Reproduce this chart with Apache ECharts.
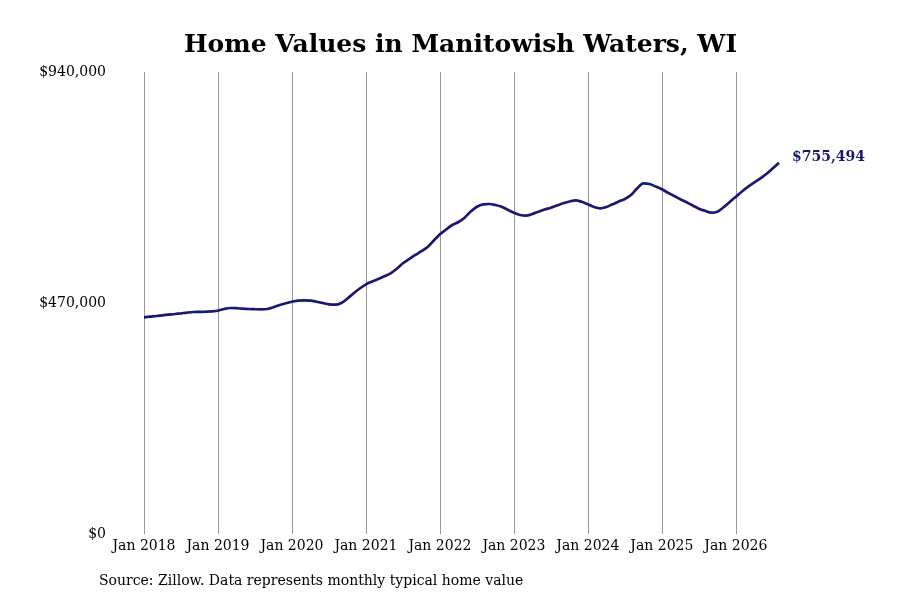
<!DOCTYPE html>
<html>
<head>
<meta charset="utf-8">
<script src="https://cdn.jsdelivr.net/npm/echarts@6/dist/echarts.min.js"></script>
<style>
  html, body { margin: 0; padding: 0; background: #fff; }
  #chart { width: 900px; height: 600px; }
</style>
</head>
<body>
<div id="chart"></div>
<script>
// monthly typical home value, Jan 2018 .. Aug 2026
const values = [
  440900, 442300, 443500, 445000, 446400, 447600, 449000, 450500, 451700, 451900, 452300, 452900,
  454300, 457800, 459800, 459400, 458400, 457800, 457400, 457200, 457800, 461200, 465900, 469600,
  472600, 474900, 475500, 474900, 472600, 470000, 467300, 466500, 470000, 479100, 489700, 499500,
  508000, 513700, 518800, 524300, 530400, 539600, 550800, 559100, 567700, 575400, 583900, 597200,
  609800, 619500, 628700, 634800, 643600, 656100, 665900, 670800, 671400, 669400, 665900, 659800,
  653700, 649000, 647600, 651100, 655800, 660200, 663900, 668400, 672800, 676500, 678900, 675900,
  670800, 665300, 662700, 665300, 670800, 676500, 681600, 689700, 703400, 713500, 712100, 707000,
  701300, 694400, 687700, 681200, 674900, 668400, 661900, 657600, 653700, 655800, 664700, 675500,
  686300, 696900, 706600, 715200, 723700, 732900, 744000, 755494
];
const monthNames = ['Jan', 'Feb', 'Mar', 'Apr', 'May', 'Jun', 'Jul', 'Aug', 'Sep', 'Oct', 'Nov', 'Dec'];
const startYear = 2018;
const yTicks = [0, 470000, 940000];

let months = [];
for (let i = 0; i < values.length; i++) {
  months.push(monthNames[i % 12] + ' ' + (startYear + Math.floor(i / 12)));
}

const isJan = (idx) => idx % 12 === 0;
const font = 'DejaVu Serif';

const chart = echarts.init(document.getElementById('chart'));
chart.setOption({
  animation: false,
  title: {
    text: 'Home Values in Manitowish Waters, WI',
    left: 179,
    top: 28,
    textStyle: { fontFamily: font, fontSize: 25, fontWeight: 'bold', color: '#000' }
  },
  graphic: [{
    type: 'text',
    left: 99,
    top: 574,
    style: {
      text: 'Source: Zillow. Data represents monthly typical home value',
      font: '14px "DejaVu Serif"',
      fill: '#000'
    }
  }],
  grid: { left: 144, right: 121, top: 72, bottom: 66 },
  xAxis: {
    type: 'category',
    data: months,
    boundaryGap: false,
    axisLine: { show: false },
    axisTick: { show: false },
    axisLabel: {
      interval: (idx) => isJan(idx),
      margin: 5,
      fontFamily: font,
      fontSize: 14,
      color: '#000'
    },
    splitLine: {
      show: true,
      interval: (idx) => isJan(idx),
      lineStyle: { color: '#999', width: 1 }
    }
  },
  yAxis: {
    type: 'value',
    min: yTicks[0],
    max: yTicks[2],
    interval: yTicks[1],
    axisLine: { show: false },
    axisTick: { show: false },
    splitLine: { show: false },
    axisLabel: {
      margin: 38,
      fontFamily: font,
      fontSize: 14,
      color: '#000',
      formatter: (v) => '$' + v.toLocaleString('en-US')
    }
  },
  series: [{
    type: 'line',
    data: values,
    smooth: 0.3,
    symbol: 'none',
    lineStyle: { color: '#191970', width: 2.7 },
    endLabel: {
      show: true,
      distance: 13,
      offset: [0, -5],
      formatter: (p) => '$' + p.value.toLocaleString('en-US'),
      fontFamily: font,
      fontSize: 14,
      fontWeight: 'bold',
      color: '#191970'
    }
  }]
});
</script>
</body>
</html>
